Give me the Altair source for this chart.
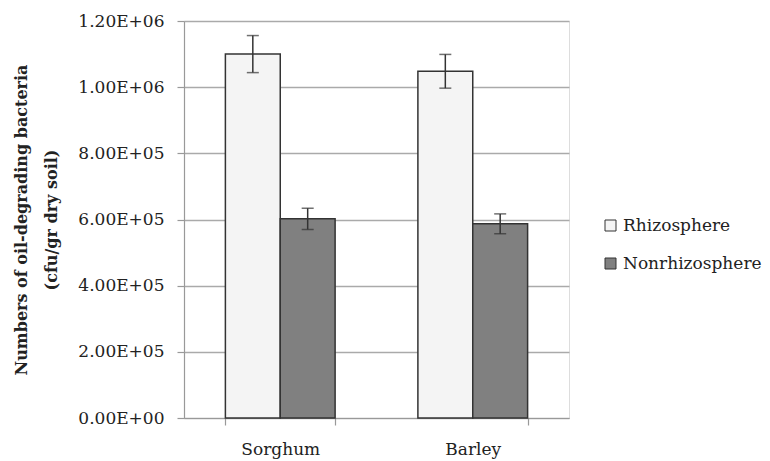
import altair as alt
import pandas as pd

crops = ["Sorghum", "Sorghum", "Barley", "Barley"]
zones = ["Rhizosphere", "Nonrhizosphere", "Rhizosphere", "Nonrhizosphere"]
means = [1.10e6, 6.02e5, 1.048e6, 5.87e5]
errors = [5.6e4, 3.2e4, 5.1e4, 3.0e4]

df = pd.DataFrame({"crop": crops, "zone": zones, "mean": means, "err": errors})
df["lo"] = df["mean"] - df["err"]
df["hi"] = df["mean"] + df["err"]

FONT = "DejaVu Serif"
crop_order = ["Sorghum", "Barley"]
zone_order = ["Rhizosphere", "Nonrhizosphere"]

xenc = alt.X("crop:N", sort=crop_order, title=None,
             scale=alt.Scale(paddingInner=0.43, paddingOuter=0.215),
             axis=alt.Axis(labelAngle=0, labelFont=FONT, labelFontSize=17, labelColor="#222",
                           labelPadding=16, domainColor="#999", domainWidth=1.2,
                           tickColor="#999", tickWidth=1.2,
                           tickSize=7, tickBand="extent", grid=False))
xoff = alt.XOffset("zone:N", sort=zone_order)

bars = alt.Chart(df).mark_bar(stroke="#333", strokeWidth=1.5).encode(
    x=xenc,
    xOffset=xoff,
    y=alt.Y("mean:Q", scale=alt.Scale(domain=[0, 1.2e6]),
            title=["Numbers of oil-degrading bacteria", "(cfu/gr dry soil)"],
            axis=alt.Axis(values=[0, 2e5, 4e5, 6e5, 8e5, 1e6, 1.2e6],
                          labelExpr="replace(format(datum.value, '.2e'), 'e+', 'E+0')",
                          labelFont=FONT, labelFontSize=17, labelColor="#222", labelPadding=13,
                          titleFont=FONT, titleFontSize=16, titleFontWeight="bold",
                          titleColor="#222", titlePadding=18, titleLineHeight=30,
                          domainColor="#999", domainWidth=1.2, tickColor="#999",
                          tickWidth=1.2, tickSize=7,
                          gridColor="#aaa", gridWidth=1.3)),
    fill=alt.Fill("zone:N", sort=zone_order,
                  scale=alt.Scale(domain=zone_order, range=["#f4f4f4", "#808080"]),
                  legend=alt.Legend(title=None, orient="none", legendX=418, legendY=196,
                                    symbolType="square", symbolSize=121,
                                    symbolStrokeColor="#333", symbolStrokeWidth=1,
                                    labelFont=FONT, labelFontSize=17, labelColor="#222",
                                    rowPadding=20, labelOffset=4)),
)

rules = alt.Chart(df).mark_rule(color="#333", strokeWidth=1.5).encode(
    x=alt.X("crop:N", sort=crop_order),
    xOffset=xoff,
    y="lo:Q",
    y2="hi:Q",
)
caps_hi = alt.Chart(df).mark_tick(color="#333", thickness=1.5, size=12, orient="horizontal").encode(
    x=alt.X("crop:N", sort=crop_order), xOffset=xoff, y="hi:Q")
caps_lo = alt.Chart(df).mark_tick(color="#333", thickness=1.5, size=12, orient="horizontal").encode(
    x=alt.X("crop:N", sort=crop_order), xOffset=xoff, y="lo:Q")

chart = alt.layer(bars, rules, caps_hi, caps_lo).properties(
    width=385, height=397,
    autosize=alt.AutoSizeParams(type="none"),
    padding={"left": 176, "top": 13, "right": 193, "bottom": 50},
).configure_view(stroke=None).configure(background="white")

chart.save("out.html", embed_options={"renderer": "svg", "actions": False})
